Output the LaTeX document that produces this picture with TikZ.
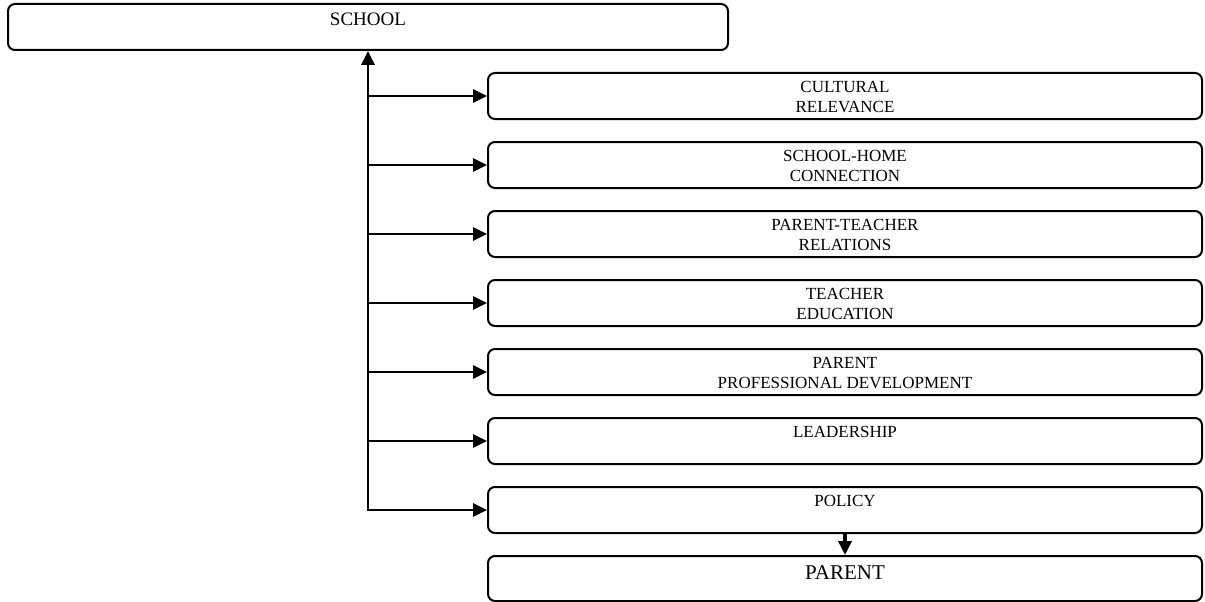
\documentclass[tikz,border=0pt]{standalone}
\usepackage{fontspec}
\setmainfont{Liberation Serif}
\usetikzlibrary{arrows.meta}
\begin{document}
\begin{tikzpicture}[x=1pt,y=-1pt,
  >={Triangle[length=14pt,width=13pt]},
  box/.style={draw, line width=2pt, rounded corners=7pt, minimum width=714pt,
              minimum height=46pt, inner sep=0pt},
  lbl/.style={font=\fontsize{17}{20}\selectfont, align=center, inner sep=0pt, anchor=north},
  link/.style={line width=2.7pt, ->}]

\useasboundingbox (0,0) rectangle (1205,602);

% top box
\node[box, minimum width=720pt] (school) at (368,27) {};
\node[lbl, font=\fontsize{19}{22}\selectfont] (schooltxt) at (368,12.8) {SCHOOL};

% stacked boxes
\node[box] (p1) at (845,96) {};
\node[box] (p2) at (845,165) {};
\node[box] (p3) at (845,234) {};
\node[box] (p4) at (845,303) {};
\node[box] (p5) at (845,372) {};
\node[box] (p6) at (845,441) {};
\node[box] (p7) at (845,510) {};
\node[box, minimum height=45pt] (parent) at (845,578.5) {};

\node[lbl] (t1) at (845,81.4) {CULTURAL\\RELEVANCE};
\node[lbl] (t2) at (845,150.4) {SCHOOL-HOME\\CONNECTION};
\node[lbl] (t3) at (845,219.4) {PARENT-TEACHER\\RELATIONS};
\node[lbl] (t4) at (845,288.4) {TEACHER\\EDUCATION};
\node[lbl] (t5) at (845,357.4) {PARENT\\PROFESSIONAL DEVELOPMENT};
\node[lbl] (t6) at (845,426.4) {LEADERSHIP};
\node[lbl] (t7) at (845,495.4) {POLICY};
\node[lbl, font=\fontsize{21}{24}\selectfont] (parenttxt) at (845,565) {PARENT};

% trunk with the last branch
\draw[line width=2.7pt, <->] (school.south) |- (p7.west);

% branches
\foreach \b in {p1,p2,p3,p4,p5,p6}
  \draw[link] (\b.west -| school.south) -- (\b.west);

\draw[link, line width=3.5pt] (p7.south) -- (parent.north);
\end{tikzpicture}
\end{document}
